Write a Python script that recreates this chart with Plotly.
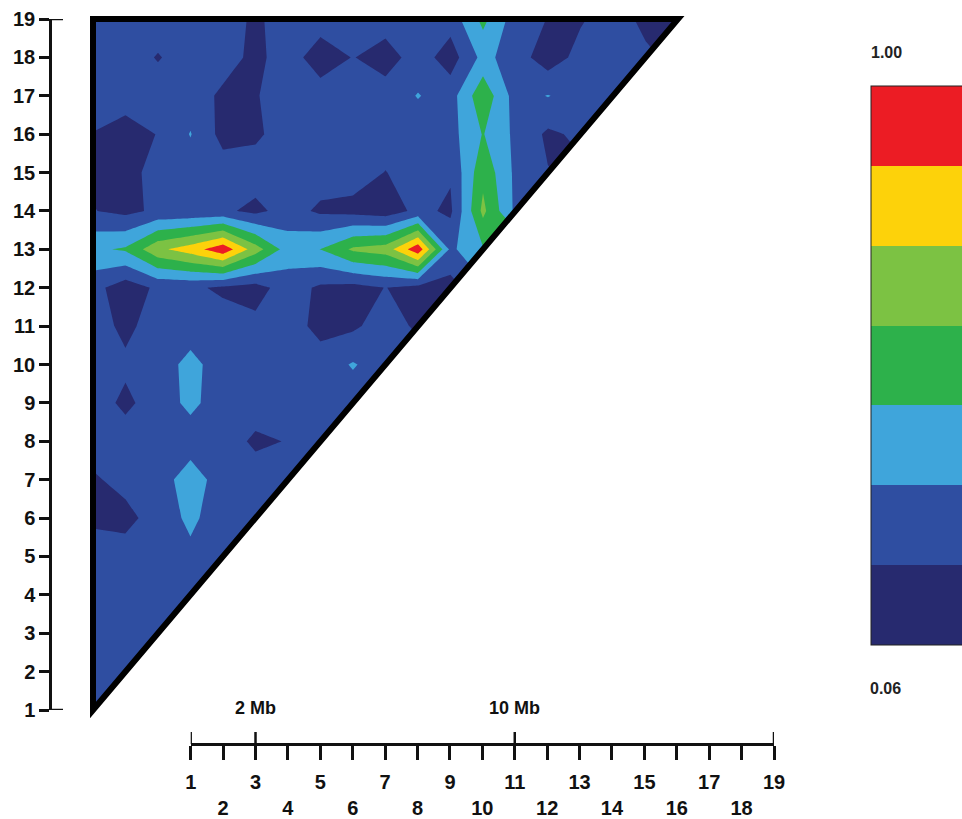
import plotly.graph_objects as go

W, H = 962, 819

# ---------------- data ----------------
markers = list(range(1, 20))

# lower-triangular pairwise values: row for marker y holds markers x = 1..y
r01 = [0.26]
r02 = [0.26, 0.26]
r03 = [0.26, 0.26, 0.26]
r04 = [0.26, 0.26, 0.26, 0.26]
r05 = [0.26, 0.26, 0.26, 0.30, 0.26]
r06 = [0.17, 0.15, 0.26, 0.355, 0.26, 0.26]
r07 = [0.175, 0.24, 0.26, 0.40, 0.26, 0.26, 0.26]
r08 = [0.26, 0.26, 0.26, 0.26, 0.26, 0.17, 0.20, 0.26]
r09 = [0.26, 0.165, 0.26, 0.36, 0.26, 0.26, 0.26, 0.26, 0.26]
r10 = [0.26, 0.22, 0.26, 0.37, 0.26, 0.26, 0.26, 0.26, 0.34, 0.26]
r11 = [0.26, 0.16, 0.26, 0.26, 0.26, 0.23, 0.26, 0.15, 0.17, 0.26, 0.17]
r12 = [0.24, 0.12, 0.22, 0.22, 0.17, 0.14, 0.26, 0.17, 0.15, 0.197, 0.15, 0.14]
r13 = [0.44, 0.48, 0.70, 0.80, 0.96, 0.66, 0.40, 0.465, 0.62, 0.66, 0.96, 0.30, 0.45]
r14 = [0.20, 0.16, 0.22, 0.22, 0.22, 0.16, 0.25, 0.17, 0.15, 0.12, 0.23, 0.17, 0.63, 0.30]
r15 = [0.16, 0.13, 0.26, 0.26, 0.26, 0.26, 0.26, 0.26, 0.26, 0.19, 0.26, 0.21, 0.56, 0.30, 0.20]
r16 = [0.19, 0.13, 0.20, 0.335, 0.15, 0.17, 0.26, 0.26, 0.26, 0.26, 0.26, 0.28, 0.47, 0.30, 0.17, 0.22]
r17 = [0.26, 0.26, 0.26, 0.26, 0.17, 0.185, 0.26, 0.26, 0.26, 0.26, 0.335, 0.27, 0.56, 0.27, 0.335, 0.26, 0.26]
r18 = [0.26, 0.26, 0.185, 0.26, 0.25, 0.16, 0.26, 0.12, 0.20, 0.13, 0.26, 0.13, 0.37, 0.26, 0.12, 0.24, 0.26, 0.22]
r19 = [0.26, 0.26, 0.26, 0.26, 0.26, 0.17, 0.26, 0.26, 0.26, 0.26, 0.26, 0.25, 0.50, 0.26, 0.19, 0.18, 0.26, 0.16, 0.20]
ld_rows = [r01, r02, r03, r04, r05, r06, r07, r08, r09, r10,
           r11, r12, r13, r14, r15, r16, r17, r18, r19]

level_min = 0.06
level_max = 1.00
n_levels = 7
band_colors = ["#272a6f", "#2f4ea1", "#3fa5db", "#2db14b", "#7cc243", "#fdd20a", "#ec1c24"]
cbar_top_label = "1.00"
cbar_bottom_label = "0.06"

tick_labels = [str(m) for m in markers]
ruler_major = [1, 3, 11, 19]
ruler_marks = ["2 Mb", "10 Mb"]
ruler_mark_pos = [3, 11]

# ---------------- helpers ----------------
def px_x(p):
    return p / W

def px_y(p):
    return 1 - p / H

n = len(markers)
z = [[None] * n for _ in range(n)]
for yi, row in enumerate(ld_rows):
    for xi, v in enumerate(row):
        z[yi][xi] = v
        z[xi][yi] = v

# stepwise colorscale, robust to how contour bands are sampled
edges = [0, 3 / 16, 5 / 16, 7 / 16, 9 / 16, 11 / 16, 13 / 16, 1]
cs = []
for i, c in enumerate(band_colors):
    cs.append([edges[i], c])
    cs.append([edges[i + 1], c])

FONT = "Liberation Sans, Arial, sans-serif"

# pixel geometry of the triangle
X1, X19 = 93.0, 678.0
Y1, Y19 = 710.0, 19.0
ux = (X19 - X1) / 18
uy = (Y1 - Y19) / 18
pad = 0.25

fig = go.Figure()
fig.add_trace(go.Contour(
    x=markers, y=markers, z=z,
    zmin=level_min, zmax=level_max,
    autocontour=False,
    contours=dict(start=level_min, end=level_max,
                  size=(level_max - level_min) / n_levels,
                  coloring="fill", showlines=False),
    line=dict(width=0, smoothing=0),
    colorscale=cs,
    hoverinfo="skip",
    colorbar=dict(
        x=px_x(871), xanchor="left",
        y=px_y((86 + 645) / 2), yanchor="middle",
        len=559, lenmode="pixels",
        thickness=140, thicknessmode="pixels",
        xpad=0, ypad=0,
        showticklabels=False, ticks="",
        outlinewidth=1, outlinecolor="#222222",
    ),
))

# dummy trace so the ruler axes get a subplot
fig.add_trace(go.Scatter(x=[None], y=[None], xaxis="x2", yaxis="y2",
                         showlegend=False, hoverinfo="skip"))

tickfont = dict(family=FONT, size=20, color="#111111", weight="bold")

xt_text = [t if int(t) % 2 == 1 else "<br>" + t for t in tick_labels]

fig.update_layout(
    width=W, height=H,
    margin=dict(l=0, r=0, t=0, b=0, autoexpand=False),
    paper_bgcolor="white",
    plot_bgcolor="rgba(0,0,0,0)",
    showlegend=False,
    xaxis=dict(domain=[px_x(X1 - pad * ux), px_x(X19 + pad * ux)],
               range=[markers[0] - pad, markers[-1] + pad], visible=False),
    yaxis=dict(domain=[px_y(Y1 + pad * uy), px_y(Y19 - pad * uy)],
               range=[markers[0] - pad, markers[-1] + pad], visible=False),
    xaxis2=dict(domain=[px_x(190.7), px_x(774)], range=[markers[0], markers[-1]],
                anchor="free", position=px_y(744), side="bottom",
                tickmode="array", tickvals=markers, ticktext=xt_text,
                ticks="outside", ticklen=14, tickwidth=2.5, tickcolor="#111111",
                ticklabelstandoff=5,
                showline=True, linecolor="#111111", linewidth=2.5,
                showgrid=False, zeroline=False, tickfont=tickfont, fixedrange=True),
    yaxis2=dict(domain=[px_y(Y1), px_y(Y19)], range=[markers[0], markers[-1]],
                anchor="free", position=px_x(50), side="left",
                tickmode="array", tickvals=markers, ticktext=tick_labels,
                ticks="outside", ticklen=10, tickwidth=2.5, tickcolor="#111111",
                showline=True, linecolor="#111111", linewidth=2.5,
                showgrid=False, zeroline=False, tickfont=tickfont, fixedrange=True),
)

lo, hi = markers[0], markers[-1]
shapes = [
    dict(type="path", path=f"M {lo},{lo} L {hi},{lo} L {hi},{hi} Z",
         xref="x", yref="y", fillcolor="white", line=dict(width=0), layer="above"),
    dict(type="path", path=f"M {lo},{lo} L {lo},{hi} L {hi},{hi} Z",
         xref="x", yref="y", fillcolor="rgba(0,0,0,0)",
         line=dict(color="#000000", width=6), layer="above"),
]
for v in ruler_major:
    shapes.append(dict(type="line", xref="x2", yref="paper", x0=v, x1=v,
                       y0=px_y(744), y1=px_y(732), line=dict(color="#111111", width=2.5)))
for v in (lo, hi):
    shapes.append(dict(type="line", xref="paper", yref="y2", x0=px_x(50), x1=px_x(63),
                       y0=v, y1=v, line=dict(color="#111111", width=2.5)))
fig.update_layout(shapes=shapes)

ann = []
for t, p in zip(ruler_marks, ruler_mark_pos):
    ann.append(dict(text=t, x=p, xref="x2", y=px_y(708), yref="paper", showarrow=False,
                    xanchor="center", yanchor="middle",
                    font=dict(family=FONT, size=18, color="#111111", weight="bold")))
ann.append(dict(text=cbar_top_label, x=px_x(886), y=px_y(52), xref="paper", yref="paper",
                showarrow=False, xanchor="center", yanchor="middle",
                font=dict(family=FONT, size=16, color="#222222", weight="bold")))
ann.append(dict(text=cbar_bottom_label, x=px_x(885), y=px_y(688), xref="paper", yref="paper",
                showarrow=False, xanchor="center", yanchor="middle",
                font=dict(family=FONT, size=16, color="#222222", weight="bold")))
fig.update_layout(annotations=ann)

fig.write_html("out.html", config={"displayModeBar": False},
               post_script="document.body.style.margin='0';")
